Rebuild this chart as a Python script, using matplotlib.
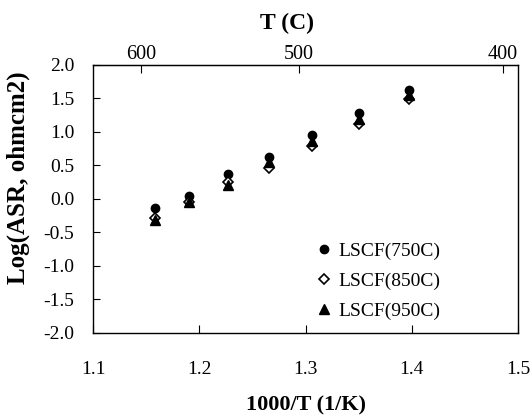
import matplotlib
matplotlib.use("Agg")
import matplotlib.pyplot as plt

plt.rcParams["font.family"] = ["Liberation Serif", "DejaVu Serif"]

# 1000/T values (1/K)
inv_t = [1.1585, 1.1906, 1.227, 1.266, 1.3057, 1.350, 1.397]
asr_750 = [-0.13, 0.05, 0.37, 0.63, 0.95, 1.29, 1.62]
asr_850 = [-0.28, -0.04, 0.26, 0.46, 0.79, 1.12, 1.49]
asr_950 = [-0.31, -0.05, 0.21, 0.55, 0.86, 1.19, 1.55]

x_ticks = [1.1, 1.2, 1.3, 1.4, 1.5]
y_ticks = [-2.0, -1.5, -1.0, -0.5, 0.0, 0.5, 1.0, 1.5, 2.0]
top_ticks = [600, 500, 400]

fig = plt.figure(figsize=(5.30, 4.15), dpi=100)
ax = fig.add_axes([0.1755, 0.1976, 0.802, 0.6458])

ax.plot(inv_t, asr_750, "o", color="black", markersize=6, label="LSCF(750C)")
ax.plot(inv_t, asr_850, "D", markerfacecolor="white", markeredgecolor="black",
        markersize=5, markeredgewidth=1.2, label="LSCF(850C)")
ax.plot(inv_t, asr_950, "^", color="black", markersize=7, label="LSCF(950C)")

ax.set_xlim(1.1, 1.5)
ax.set_ylim(-2.0, 2.0)
ax.set_xticks(x_ticks)
ax.set_xticklabels([f"{v:.1f}" for v in x_ticks])
ax.set_yticks(y_ticks)
ax.set_yticklabels([f"{v:.1f}" for v in y_ticks])
ax.tick_params(axis="x", direction="in", length=6, pad=20, labelsize=14)
ax.tick_params(axis="y", direction="in", length=5, pad=13.5, labelsize=14)

ax.set_xlabel("1000/T (1/K)", fontsize=16, fontweight="bold", labelpad=13)
ax.set_ylabel("Log(ASR, ohmcm2)", fontsize=18, fontweight="bold")
ax.yaxis.set_label_coords(-0.148, 0.58)

top = ax.secondary_xaxis("top", functions=(lambda x: 1000.0 / x - 273.15,
                                           lambda t: 1000.0 / (t + 273.15)))
top.set_xticks(top_ticks)
top.tick_params(direction="in", length=6, pad=0.5, labelsize=14.5)
fig.text(287 / 530, 1 - 23 / 415, "T (C)", ha="center", va="center",
         fontsize=17, fontweight="bold")

for s in ax.spines.values():
    s.set_linewidth(1.0)

ax.legend(loc="upper left", bbox_to_anchor=(0.52, 0.34), frameon=False,
          fontsize=14, handletextpad=0.24, handlelength=1.0,
          labelspacing=0.65, borderpad=0, borderaxespad=0)

fig.savefig("out.png", dpi=100)
